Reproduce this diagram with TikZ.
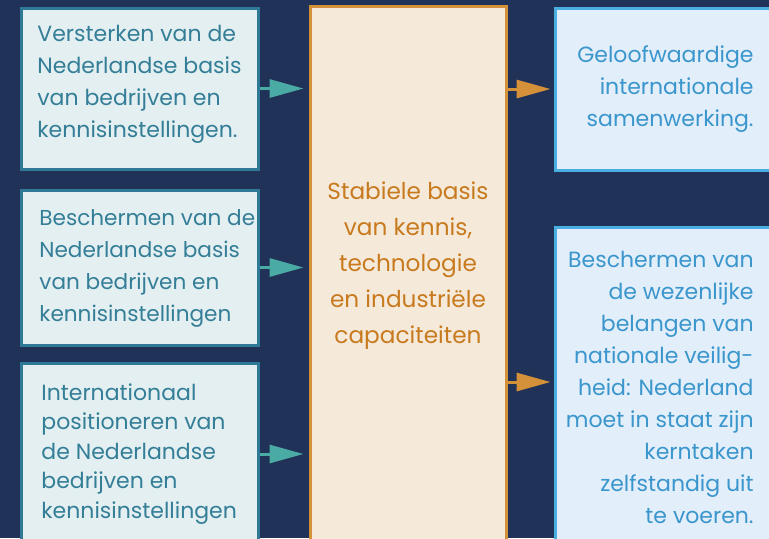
\documentclass[tikz,border=0pt]{standalone}
\usepackage{fontspec}
\setmainfont{Poppins}
\usetikzlibrary{arrows.meta}
\definecolor{navybg}{RGB}{33,50,88}
\definecolor{tealline}{RGB}{46,122,150}
\definecolor{tealfill}{RGB}{227,239,240}
\definecolor{tealtext}{RGB}{52,126,152}
\definecolor{tealarrow}{RGB}{74,171,165}
\definecolor{orangeline}{RGB}{212,145,58}
\definecolor{orangefill}{RGB}{245,233,218}
\definecolor{orangetext}{RGB}{200,122,30}
\definecolor{blueline}{RGB}{74,174,224}
\definecolor{bluefill}{RGB}{226,238,250}
\definecolor{bluetext}{RGB}{58,150,204}

\begin{document}
\begin{tikzpicture}[x=0.5pt,y=-0.5pt,>={Triangle[length=17pt,width=9pt]}]
  \tikzset{
    leftbox/.style={draw=tealline,fill=tealfill,line width=1.5pt,
                    minimum width=118.5pt,inner sep=0pt},
    corebox/.style={draw=orangeline,fill=orangefill,line width=1.5pt,
                    minimum width=98pt,minimum height=277pt,inner sep=0pt},
    rightbox/.style={draw=blueline,fill=bluefill,line width=1.5pt,
                     minimum width=108.5pt,inner sep=0pt},
    lefttext/.style={anchor=west,align=left,inner sep=0pt,text=tealtext,
                     font=\fontsize{11}{16}\selectfont},
    coretext/.style={align=center,inner sep=0pt,text=orangetext,
                     font=\fontsize{11.6}{18}\selectfont},
    righttext/.style={anchor=east,align=right,inner sep=0pt,text=bluetext,
                      font=\fontsize{11}{16}\selectfont},
    inflow/.style={->,draw=tealarrow,fill=tealarrow,line width=1.5pt},
    outflow/.style={->,draw=orangeline,fill=orangeline,line width=1.5pt}
  }
  \useasboundingbox (0,0) rectangle (769,538);
  \fill[navybg] (0,0) rectangle (769,538);
  \clip (0,0) rectangle (769,538);

  % boxes
  \node[leftbox,minimum height=80.5pt] (l1) at (139.5,88.5) {};
  \node[leftbox,minimum height=77.5pt] (l2) at (139.5,267.5) {};
  \node[leftbox,minimum height=91pt] (l3) at (139.5,454) {};
  \node[corebox] (core) at (408,283) {};
  \node[rightbox,minimum height=81pt] (r1) at (663.5,89) {};
  \node[rightbox,minimum height=160pt] (r2) at (663.5,387) {};

  % texts
  \node[lefttext] (l1t) at (37,84) {Versterken van de\\Nederlandse basis\\van bedrijven en\\kennisinstellingen.};
  \node[lefttext,font=\fontsize{10.8}{16}\selectfont] (l2t) at (39,268) {Beschermen van de\\Nederlandse basis\\van bedrijven en\\kennisinstellingen};
  \node[lefttext,font=\fontsize{11}{14.75}\selectfont] (l3t) at (41,454)
    {Internationaal\\positioneren van\\de Nederlandse\\bedrijven en\\kennisinstellingen};
  \node[coretext] (coret) at (408,266) {Stabiele basis\\van kennis,\\technologie\\en industriële\\capaciteiten};
  \node[righttext] (r1t) at (754,89) {Geloofwaardige\\internationale\\samenwerking.};
  \node[righttext] (r2t) at (754,387) {Beschermen van\\de wezenlijke\\belangen van\\nationale veilig-\\heid: Nederland\\moet in staat zijn\\kerntaken\\zelfstandig uit\\te voeren.};

  % connectors
  \draw[inflow] (l1.east) -- ([xshift=-2.5pt]l1.east -| core.west);
  \draw[inflow] (l2.east) -- ([xshift=-2.5pt]l2.east -| core.west);
  \draw[inflow] (l3.east) -- ([xshift=-2.5pt]l3.east -| core.west);
  \draw[outflow] (r1.west -| core.east) -- ([xshift=-1.5pt]r1.west);
  \draw[outflow] ([yshift=2.5pt]r2.west -| core.east) -- ([xshift=-1.5pt,yshift=2.5pt]r2.west);
\end{tikzpicture}
\end{document}
